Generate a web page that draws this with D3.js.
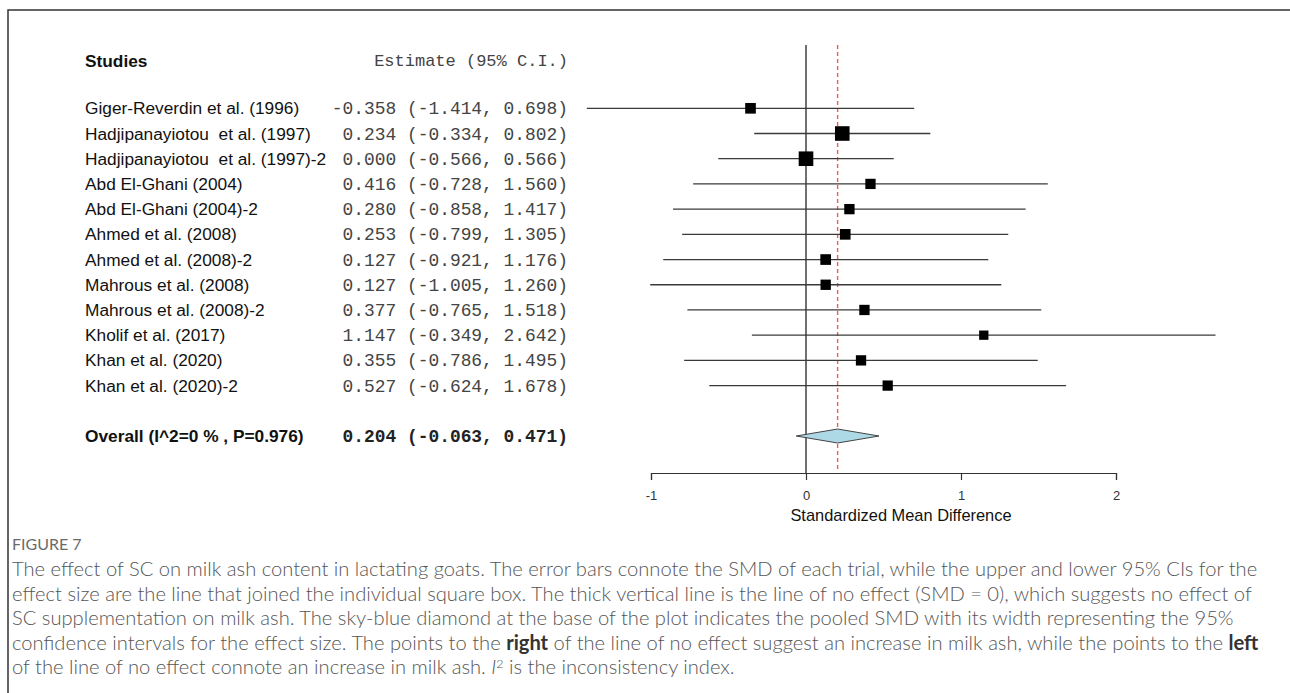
<!DOCTYPE html>
<html>
<head>
<meta charset="utf-8">
<script src="https://cdn.jsdelivr.net/npm/d3@7"></script>
<style>
    body { margin: 0; background: #fff; }
    svg { display: block; }
</style>
</head>
<body>
<div id="chart"></div>
<script>
// study data
var studies = [
    "Giger-Reverdin et al. (1996)",
    "Hadjipanayiotou  et al. (1997)",
    "Hadjipanayiotou  et al. (1997)-2",
    "Abd El-Ghani (2004)",
    "Abd El-Ghani (2004)-2",
    "Ahmed et al. (2008)",
    "Ahmed et al. (2008)-2",
    "Mahrous et al. (2008)",
    "Mahrous et al. (2008)-2",
    "Kholif et al. (2017)",
    "Khan et al. (2020)",
    "Khan et al. (2020)-2"
];
var estimates = [-0.358, 0.234, 0.000, 0.416, 0.280, 0.253, 0.127, 0.127, 0.377, 1.147, 0.355, 0.527];
var lower = [-1.414, -0.334, -0.566, -0.728, -0.858, -0.799, -0.921, -1.005, -0.765, -0.349, -0.786, -0.624];
var upper = [0.698, 0.802, 0.566, 1.560, 1.417, 1.305, 1.176, 1.260, 1.518, 2.642, 1.495, 1.678];

var overallLabel = "Overall (I^2=0 % , P=0.976)";
var overall = { est: 0.204, lo: -0.063, hi: 0.471 };

var xTicks = [-1, 0, 1, 2];
var axisTitle = "Standardized Mean Difference";

var figureLabel = "FIGURE 7";
// caption lines, each a list of [text, style]
var captionLines = [
    [["The effect of SC on milk ash content in lactating goats. The error bars connote the SMD of each trial, while the upper and lower 95% CIs for the", ""]],
    [["effect size are the line that joined the individual square box. The thick vertical line is the line of no effect (SMD = 0), which suggests no effect of", ""]],
    [["SC supplementation on milk ash. The sky-blue diamond at the base of the plot indicates the pooled SMD with its width representing the 95%", ""]],
    [["confidence intervals for the effect size. The points to the ", ""], ["right", "b"], [" of the line of no effect suggest an increase in milk ash, while the points to the ", ""], ["left", "b"]],
    [["of the line of no effect connote an increase in milk ash. ", ""], ["I", "i"], ["2", "sup"], [" is the inconsistency index.", "after"]]
];

var W = 1290, H = 693;
var svg = d3.select("#chart").append("svg")
    .attr("width", W).attr("height", H);

// frame (top and left edges)
svg.append("path")
    .attr("d", "M8,693V10H1290")
    .attr("fill", "none")
    .attr("stroke", "#333")
    .attr("stroke-width", 1.5);

var x = d3.scaleLinear().domain([-1, 2]).range([651, 1116]);
var y = d3.scaleLinear().domain([0, 13]).range([108.3, 436]);
var axisY = 473;

// box size from inverse-variance weight
var weights = lower.map(function (lo, i) {
    var se = (upper[i] - lo) / 3.92;
    return 1 / (se * se);
});
var size = d3.scaleSqrt().domain(d3.extent(weights)).range([9.3, 14.6]);

// plain hyphen minus like the R output
var loc = d3.formatLocale({ decimal: ".", thousands: ",", grouping: [3], currency: ["", ""], minus: "-" });
var fmt = loc.format(".3f");
function ciText(e, lo, hi) {
    var s = fmt(e);
    if (e >= 0) s = " " + s;
    var h = fmt(hi);
    if (hi >= 0) h = " " + h;
    return s + " (" + fmt(lo) + "," + h + ")";
}

var sans = "'Liberation Sans', Arial, sans-serif";
var mono = "'Liberation Mono', 'Courier New', monospace";
var labelSize = 17.3;

// headers
svg.append("text")
    .attr("x", 85).attr("y", 67)
    .attr("font-family", sans).attr("font-size", labelSize).attr("font-weight", "bold")
    .attr("fill", "#111")
    .text("Studies");
svg.append("text")
    .attr("x", 568).attr("y", 66)
    .attr("text-anchor", "end")
    .attr("font-family", mono).attr("font-size", 17).attr("fill", "#444")
    .text("Estimate (95% C.I.)");

// study labels and estimates
var rows = svg.append("g");
rows.selectAll("text.study").data(studies).enter().append("text")
    .attr("class", "study")
    .attr("x", 85).attr("y", function (d, i) { return y(i) + 6; })
    .attr("font-family", sans).attr("font-size", labelSize).attr("fill", "#111")
    .attr("xml:space", "preserve")
    .text(function (d) { return d; });
rows.selectAll("text.est").data(estimates).enter().append("text")
    .attr("class", "est")
    .attr("x", 568).attr("y", function (d, i) { return y(i) + 6; })
    .attr("text-anchor", "end")
    .attr("font-family", mono).attr("font-size", 17.9).attr("fill", "#444")
    .attr("xml:space", "preserve")
    .text(function (d, i) { return ciText(d, lower[i], upper[i]); });

// overall row
svg.append("text")
    .attr("x", 85).attr("y", y(13) + 6)
    .attr("font-family", sans).attr("font-size", labelSize).attr("font-weight", "bold")
    .attr("fill", "#111")
    .text(overallLabel);
svg.append("text")
    .attr("x", 568).attr("y", y(13) + 6)
    .attr("text-anchor", "end")
    .attr("font-family", mono).attr("font-size", 17.9).attr("font-weight", "bold")
    .attr("fill", "#222")
    .attr("xml:space", "preserve")
    .text(ciText(overall.est, overall.lo, overall.hi));

// line of no effect and pooled estimate
svg.append("line")
    .attr("x1", x(0)).attr("x2", x(0))
    .attr("y1", 45).attr("y2", axisY)
    .attr("stroke", "#111").attr("stroke-width", 1.2);
svg.append("line")
    .attr("x1", x(overall.est)).attr("x2", x(overall.est))
    .attr("y1", 45).attr("y2", axisY - 2)
    .attr("stroke", "#f05a5a").attr("stroke-width", 1.4)
    .attr("stroke-dasharray", "4,3");

// confidence intervals
var ci = svg.append("g");
ci.selectAll("line").data(estimates).enter().append("line")
    .attr("x1", function (d, i) { return x(lower[i]); })
    .attr("x2", function (d, i) { return x(upper[i]); })
    .attr("y1", function (d, i) { return y(i); })
    .attr("y2", function (d, i) { return y(i); })
    .attr("stroke", "#3a3a3a").attr("stroke-width", 1.3);
ci.selectAll("rect").data(estimates).enter().append("rect")
    .attr("x", function (d, i) { return x(d) - size(weights[i]) / 2; })
    .attr("y", function (d, i) { return y(i) - size(weights[i]) / 2; })
    .attr("width", function (d, i) { return size(weights[i]); })
    .attr("height", function (d, i) { return size(weights[i]); })
    .attr("fill", "#000");

// pooled diamond
var yo = y(13);
svg.append("path")
    .attr("d", "M" + x(overall.lo) + "," + yo +
        "L" + x(overall.est) + "," + (yo - 7) +
        "L" + x(overall.hi) + "," + yo +
        "L" + x(overall.est) + "," + (yo + 7) + "Z")
    .attr("fill", "#add8e6")
    .attr("stroke", "#444").attr("stroke-width", 1);

// x axis
var axis = svg.append("g")
    .attr("transform", "translate(0," + axisY + ")")
    .call(d3.axisBottom(x).tickValues(xTicks).tickSize(7).tickPadding(11)
        .tickFormat(loc.format("d")));
axis.select(".domain").attr("stroke", "#333").attr("stroke-width", 1.2);
axis.selectAll(".tick line").attr("stroke", "#333").attr("stroke-width", 1.2);
axis.selectAll(".tick text")
    .attr("font-family", sans).attr("font-size", 13).attr("fill", "#333");

svg.append("text")
    .attr("x", 901).attr("y", 521)
    .attr("text-anchor", "middle")
    .attr("font-family", sans).attr("font-size", 16.4).attr("fill", "#111")
    .text(axisTitle);

// caption
var capFont = "Lato, 'Open Sans', sans-serif";
svg.append("text")
    .attr("x", 12).attr("y", 550)
    .attr("font-family", capFont).attr("font-size", 16).attr("fill", "#6a6a6a")
    .text(figureLabel);

var cap = svg.append("g").attr("font-family", capFont).attr("fill", "#555")
    .attr("font-weight", 300);
var capLines = cap.selectAll("text").data(captionLines).enter().append("text")
    .attr("x", 12)
    .attr("y", function (d, i) { return 576 + i * 24.5; })
    .attr("font-size", 16);
capLines.each(function (parts) {
    var t = d3.select(this);
    parts.forEach(function (p) {
        var s = t.append("tspan").attr("xml:space", "preserve").text(p[0]);
        if (p[1] === "b") s.attr("font-weight", "bold").attr("fill", "#333");
        if (p[1] === "i") s.attr("font-style", "italic");
        if (p[1] === "sup") s.attr("class", "sup").attr("dy", -6);
        if (p[1] === "after") s.attr("dy", 6);
    });
});

// fit caption font so the first line spans the same width as the reference
var w0 = capLines.node().getComputedTextLength();
var fs = 16 * 1246 / w0;
capLines.attr("font-size", fs);
cap.selectAll("tspan.sup").attr("font-size", fs * 0.62);
</script>
</body>
</html>
